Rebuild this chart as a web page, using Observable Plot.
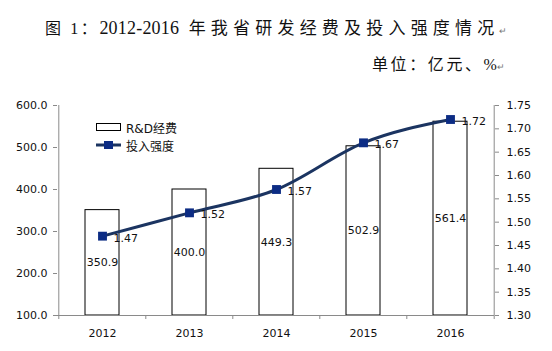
<!DOCTYPE html>
<html><head><meta charset="utf-8">
<script src="https://cdn.jsdelivr.net/npm/d3@7"></script>
<script src="https://cdn.jsdelivr.net/npm/@observablehq/plot@0.6"></script>
<style>
body{margin:0;background:#fff;}
#wrap{position:relative;width:552px;height:351px;overflow:hidden;}
.t{position:absolute;white-space:nowrap;font-family:"Liberation Serif","Noto Sans CJK SC",serif;color:#111;font-size:16px;}
.cjk{letter-spacing:2.6px;}
.ret{font-size:9px;color:#777;letter-spacing:0;}
#legend{position:absolute;left:96px;top:118px;font-family:"DejaVu Sans","Noto Sans CJK SC",sans-serif;font-size:12px;color:#111;}
#legend div{height:18px;display:flex;align-items:center;}
</style></head>
<body><div id="wrap">
<div class="t" style="left:45px;top:14px;"><span class="cjk">图 1：</span><span style="font-size:18px;letter-spacing:0.2px">2012-2016</span><span style="font-size:17px;letter-spacing:5.2px"> 年我省研发经费及投入强度情况</span><span class="ret">↵</span></div>
<div class="t" style="left:372px;top:51px;"><span class="cjk">单位：亿元、</span><span>%</span><span class="ret">↵</span></div>
<div id="chart"></div>
<div id="legend">
<div><svg width="26" height="10"><rect x="0.5" y="1.5" width="24" height="7" fill="#fff" stroke="#000"/></svg><span style="margin-left:4px">R&amp;D经费</span></div>
<div><svg width="26" height="10"><line x1="0" x2="25" y1="5" y2="5" stroke="#1b3461" stroke-width="3"/><rect x="8" y="1" width="9" height="8" fill="#0c2c84"/></svg><span style="margin-left:4px">投入强度</span></div>
</div>
</div>
<script>
const years = ["2012","2013","2014","2015","2016"];
const spending = [350.9, 400.0, 449.3, 502.9, 561.4];
const intensity = [1.47, 1.52, 1.57, 1.67, 1.72];
const leftTicks = [100, 200, 300, 400, 500, 600];
const rightTicks = [1.30, 1.35, 1.40, 1.45, 1.50, 1.55, 1.60, 1.65, 1.70, 1.75];

const W = 552, H = 351, mL = 57, mR = 58, mT = 105, mB = 36;
const toLeft = d3.scaleLinear([1.30, 1.75], [100, 600]);
const data = years.map((y, i) => ({year: y, v: spending[i], r: intensity[i], rl: toLeft(intensity[i])}));
const half = (W - mL - mR) / years.length / 2;
const font = "DejaVu Sans, sans-serif";
const axisColor = "#8a8a8a";
const first = years[0], last = years[years.length - 1];

const chart = Plot.plot({
  width: W, height: H,
  marginLeft: mL, marginRight: mR, marginTop: mT, marginBottom: mB,
  style: {fontFamily: font, fontSize: "11px", color: "#111", background: "transparent"},
  x: {domain: years, paddingInner: 0.61, paddingOuter: 0.305, axis: null},
  y: {domain: [100, 600], axis: null},
  marks: [
    Plot.barY(data, {x: "year", y1: 100, y2: "v", fill: "#fff", stroke: "#000", strokeWidth: 1}),
    Plot.text(data, {x: "year", y: d => (100 + d.v) / 2, text: d => d.v.toFixed(1), fontSize: 11, fill: "#111"}),
    // axes
    Plot.ruleY([100], {stroke: axisColor}),
    Plot.ruleX([first], {x: d => d, y1: 100, y2: 600, dx: -half, stroke: axisColor}),
    Plot.ruleX([last], {x: d => d, y1: 100, y2: 600, dx: half, stroke: axisColor}),
    Plot.ruleX(years, {x: d => d, y1: 100, y2: 100 - 4 / 0.42, dx: -half, stroke: axisColor}),
    Plot.ruleX([last], {x: d => d, y1: 100, y2: 100 - 4 / 0.42, dx: half, stroke: axisColor}),
    Plot.axisY(leftTicks, {anchor: "left", tickFormat: d => d.toFixed(1), tickSize: 4, tickPadding: 6, stroke: axisColor, fill: "#111", fontSize: 11}),
    Plot.axisY(rightTicks.map(toLeft), {anchor: "right", tickFormat: d => toLeft.invert(d).toFixed(2), tickSize: 4, tickPadding: 8, stroke: axisColor, fill: "#111", fontSize: 11}),
    Plot.text(years, {x: d => d, y: 100, text: d => d, dy: 18, fontSize: 11, fill: "#111"}),
    // line
    Plot.line(data, {x: "year", y: "rl", stroke: "#1b3461", strokeWidth: 3, curve: "monotone-x"}),
    Plot.dot(data, {x: "year", y: "rl", symbol: "square", r: 5, fill: "#0c2c84", stroke: "none"}),
    Plot.text(data, {x: "year", y: "rl", text: d => d.r.toFixed(2), textAnchor: "start", dx: 11, dy: 2, fontSize: 11, fill: "#111"})
  ]
});
document.getElementById("chart").appendChild(chart);
</script>
</body></html>
